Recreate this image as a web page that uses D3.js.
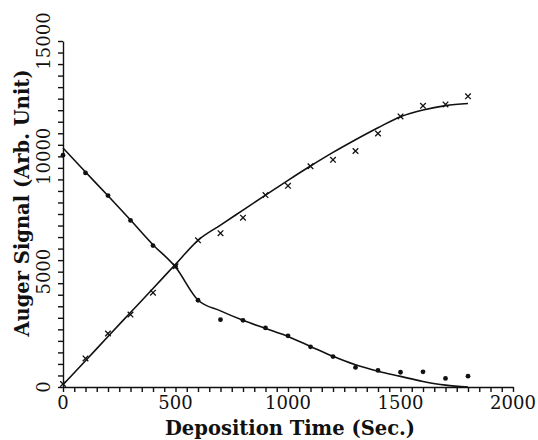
<!DOCTYPE html>
<html>
<head>
<meta charset="utf-8">
<script src="https://cdn.jsdelivr.net/npm/d3@7"></script>
<style>
  body { margin: 0; background: #fff; }
  svg { display: block; }
</style>
</head>
<body>
<div id="chart"></div>
<script>
// Sample times (sec.) shared by both series
const times = [0, 100, 200, 300, 400, 500, 600, 700, 800, 900, 1000, 1100, 1200, 1300, 1400, 1500, 1600, 1700, 1800];

// Measured points: dots (decreasing) and crosses (increasing)
const dotSignal = [10050, 9280, 8300, 7220, 6130, 5230, 3760, 2920, 2890, 2560, 2220, 1740, 1320, 850, 720, 640, 660, 370, 470];
const crossSignal = [130, 1240, 2320, 3140, 4090, 5230, 6360, 6670, 7340, 8320, 8720, 9570, 9850, 10230, 10990, 11730, 12190, 12250, 12600];

// Fitted curves
const dotFit = [10360, 9320, 8290, 7240, 6170, 5200, 3770, 3300, 2890, 2540, 2190, 1760, 1330, 960, 680, 460, 240, 80, 0];
const crossFit = [100, 1140, 2190, 3230, 4270, 5320, 6360, 7020, 7670, 8320, 8960, 9580, 10170, 10720, 11240, 11720, 12010, 12200, 12290];

// Axis ticks
const xTickLabels = [0, 500, 1000, 1500, 2000];
const yTickLabels = [0, 5000, 10000, 15000];

const width = 538, height = 440;
const font = "'DejaVu Serif', 'Liberation Serif', serif";

let svg = d3.select('#chart').append('svg')
    .attr('width', width)
    .attr('height', height);

let xScale = d3.scaleLinear().domain([0, 2000]).range([63, 513]);
let yScale = d3.scaleLinear().domain([0, 15000]).range([387, 41]);

// Axis lines with outward minor ticks
let xAxis = d3.axisBottom(xScale)
    .tickValues(d3.range(0, 2001, 50))
    .tickSize(5)
    .tickSizeOuter(0)
    .tickFormat('');
svg.append('g')
    .attr('transform', `translate(0,${yScale(0)})`)
    .call(xAxis);

let yAxis = d3.axisLeft(yScale)
    .tickValues(d3.range(0, 15001, 500))
    .tickSize(5)
    .tickSizeOuter(0)
    .tickFormat('');
svg.append('g')
    .attr('transform', `translate(${xScale(0)},0)`)
    .call(yAxis);

svg.selectAll('.domain, .tick line')
    .attr('stroke', '#111')
    .attr('stroke-width', 1.4);

// Tick labels
svg.append('g').selectAll('text')
    .data(xTickLabels)
    .enter()
    .append('text')
    .attr('x', d => xScale(d))
    .attr('y', 409)
    .attr('text-anchor', 'middle')
    .attr('font-family', font)
    .attr('font-size', 18)
    .attr('fill', '#111')
    .text(d => d);

svg.append('g').selectAll('text')
    .data(yTickLabels)
    .enter()
    .append('text')
    .attr('transform', d => `translate(50,${yScale(d)}) rotate(-90)`)
    .attr('text-anchor', 'middle')
    .attr('font-family', font)
    .attr('font-size', 18)
    .attr('fill', '#111')
    .text(d => d);

// Axis titles
svg.append('text')
    .attr('x', 290)
    .attr('y', 435)
    .attr('text-anchor', 'middle')
    .attr('font-family', font)
    .attr('font-weight', 'bold')
    .attr('font-size', 19.5)
    .attr('fill', '#111')
    .text('Deposition Time (Sec.)');

svg.append('text')
    .attr('transform', 'translate(29,203) rotate(-90)')
    .attr('text-anchor', 'middle')
    .attr('font-family', font)
    .attr('font-weight', 'bold')
    .attr('font-size', 19.5)
    .attr('fill', '#111')
    .text('Auger Signal (Arb. Unit)');

// Fitted curves
let line = d3.line()
    .x((d, i) => xScale(times[i]))
    .y(d => yScale(d))
    .curve(d3.curveMonotoneX);

[dotFit, crossFit].forEach(fit => {
    svg.append('path')
        .attr('d', line(fit))
        .attr('fill', 'none')
        .attr('stroke', '#111')
        .attr('stroke-width', 1.6);
});

// Dot markers
svg.append('g').selectAll('circle')
    .data(dotSignal)
    .enter()
    .append('circle')
    .attr('cx', (d, i) => xScale(times[i]))
    .attr('cy', d => yScale(d))
    .attr('r', 2.4)
    .attr('fill', '#111');

// Cross markers
svg.append('g').selectAll('path')
    .data(crossSignal)
    .enter()
    .append('path')
    .attr('d', (d, i) => {
        let x = xScale(times[i]), y = yScale(d), s = 2.8;
        return `M${x - s},${y - s}L${x + s},${y + s}M${x - s},${y + s}L${x + s},${y - s}`;
    })
    .attr('stroke', '#111')
    .attr('stroke-width', 1.3)
    .attr('fill', 'none');
</script>
</body>
</html>
